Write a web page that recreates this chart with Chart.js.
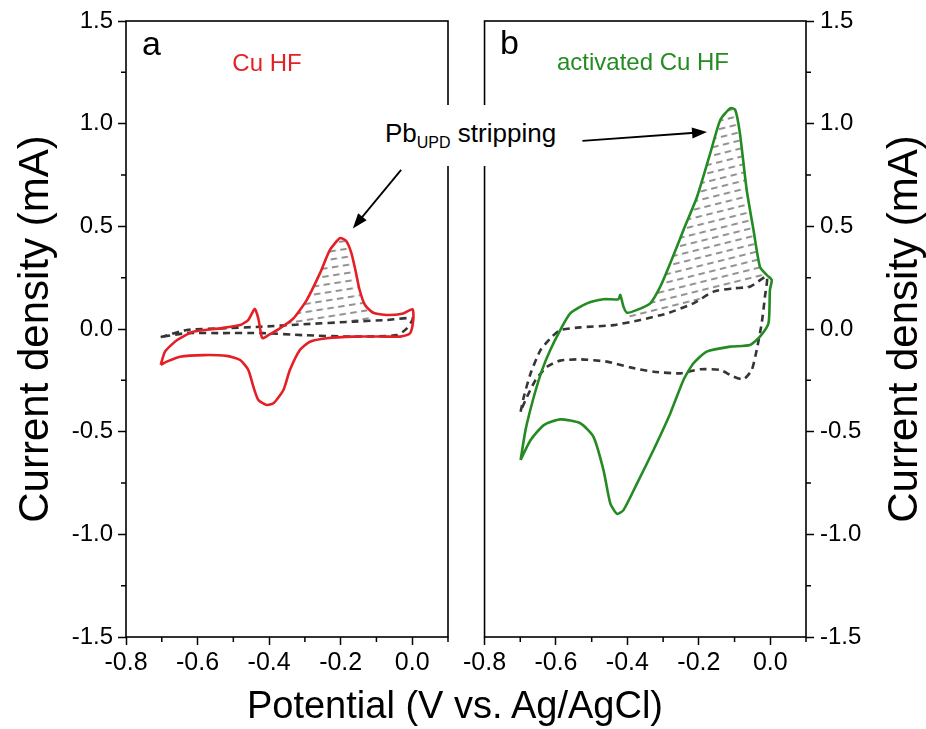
<!DOCTYPE html>
<html>
<head>
<meta charset="utf-8">
<script src="https://cdn.jsdelivr.net/npm/chart.js@4.4.1/dist/chart.umd.min.js"></script>
<style>
  body { margin: 0; background: #fff; }
  #wrap { position: relative; width: 926px; height: 729px; overflow: hidden; background: #fff;
          font-family: 'Liberation Sans', Arial, sans-serif; color: #000; }
  #chartA { position: absolute; left: 0; top: 0; }
  #chartB { position: absolute; left: 460px; top: 0; }
  .callout { position: absolute; left: 378px; top: 105px; width: 186px; height: 61px; line-height: 56px;
             background: #fff; font-size: 26px; padding-left: 7px; box-sizing: border-box; white-space: nowrap; }
  .callout sub { font-size: 16px; vertical-align: -6px; line-height: 0; }
  .xtitle { position: absolute; left: 0; top: 683px; width: 910px; text-align: center; font-size: 38px; line-height: 44px; }
</style>
</head>
<body>
<div id="wrap">
  <canvas id="chartA" width="460" height="729"></canvas>
  <canvas id="chartB" width="466" height="729"></canvas>
  <div class="callout">Pb<sub>UPD</sub> stripping</div>
  <div class="xtitle">Potential (V vs. Ag/AgCl)</div>
</div>
<script>
// axis ticks
const xTicks = [-0.8, -0.6, -0.4, -0.2, 0.0];
const xMinorTicks = [-0.7, -0.5, -0.3, -0.1, 0.1];
const yTicks = [-1.5, -1.0, -0.5, 0.0, 0.5, 1.0, 1.5];
const yMinorTicks = [-1.25, -0.75, -0.25, 0.25, 0.75, 1.25];

// (a) Cu HF, solid red CV
const cuPotential = [-0.703, -0.691, -0.658, -0.612, -0.537, -0.481, -0.458, -0.440, -0.430, -0.422, -0.418, -0.402,
  -0.370, -0.332, -0.295, -0.258, -0.230, -0.202, -0.185, -0.170, -0.158, -0.147, -0.132, -0.109, -0.071, -0.025,
  0.001, 0.003, -0.006, -0.034, -0.071, -0.165, -0.239, -0.286, -0.314, -0.342, -0.360, -0.388, -0.407, -0.430,
  -0.444, -0.458, -0.481, -0.519, -0.584, -0.649, -0.686, -0.703];
const cuCurrent = [-0.175, -0.110, -0.055, -0.013, 0.003, 0.019, 0.045, 0.098, 0.050, -0.030, -0.045, -0.030,
  0.003, 0.052, 0.141, 0.271, 0.385, 0.442, 0.430, 0.370, 0.280, 0.190, 0.117, 0.079, 0.068, 0.076,
  0.096, 0.044, -0.021, -0.037, -0.037, -0.037, -0.045, -0.062, -0.102, -0.200, -0.297, -0.362, -0.370, -0.346,
  -0.281, -0.200, -0.151, -0.131, -0.127, -0.135, -0.159, -0.175];

// (a) background CV, dashed
const cuBgPotential = [-0.703, -0.630, -0.537, -0.425, -0.304, -0.165, -0.071, 0.001, -0.015, -0.043, -0.165,
  -0.304, -0.416, -0.537, -0.630, -0.686, -0.703];
const cuBgCurrent = [-0.040, -0.005, 0.003, 0.011, 0.023, 0.036, 0.044, 0.052, 0.003, -0.030, -0.037,
  -0.030, -0.020, -0.020, -0.020, -0.034, -0.040];

// (a) Pb UPD stripping area
const cuHatchPotential = [-0.372, -0.332, -0.295, -0.258, -0.230, -0.202, -0.185, -0.170, -0.158, -0.147, -0.135,
  -0.125, -0.120, -0.165, -0.250, -0.304, -0.372];
const cuHatchCurrent = [0.010, 0.052, 0.141, 0.271, 0.385, 0.442, 0.430, 0.370, 0.280, 0.190, 0.120,
  0.090, 0.040, 0.036, 0.028, 0.023, 0.016];

// (b) activated Cu HF, solid green CV
const actPotential = [-0.699, -0.685, -0.662, -0.639, -0.616, -0.588, -0.560, -0.513, -0.467, -0.425, -0.420, -0.411,
  -0.401, -0.373, -0.336, -0.308, -0.280, -0.243, -0.205, -0.168, -0.140, -0.112, -0.098, -0.085, -0.066, -0.047,
  -0.029, -0.010, 0.004, -0.001, -0.005, -0.029, -0.057, -0.112, -0.178, -0.215, -0.243, -0.280, -0.327, -0.373,
  -0.411, -0.429, -0.448, -0.467, -0.495, -0.532, -0.588, -0.634, -0.671, -0.699];
const actCurrent = [-0.638, -0.490, -0.330, -0.200, -0.102, -0.005, 0.076, 0.125, 0.145, 0.145, 0.166, 0.109,
  0.079, 0.093, 0.125, 0.206, 0.320, 0.482, 0.644, 0.856, 1.018, 1.075, 1.067, 0.953, 0.677, 0.482,
  0.303, 0.263, 0.239, 0.190, 0.028, -0.037, -0.078, -0.086, -0.110, -0.167, -0.248, -0.411, -0.589, -0.752,
  -0.882, -0.900, -0.849, -0.687, -0.525, -0.459, -0.440, -0.468, -0.541, -0.638];

// (b) background CV, dashed
const actBgPotential = [-0.699, -0.690, -0.671, -0.643, -0.611, -0.588, -0.532, -0.439, -0.364, -0.289, -0.215,
  -0.159, -0.103, -0.057, -0.010, -0.015, -0.024, -0.038, -0.052, -0.075, -0.103, -0.140, -0.196, -0.252, -0.327,
  -0.392, -0.457, -0.532, -0.588, -0.625, -0.657, -0.681, -0.699];
const actBgCurrent = [-0.403, -0.330, -0.216, -0.102, -0.037, -0.005, 0.008, 0.019, 0.044, 0.076, 0.125,
  0.182, 0.198, 0.206, 0.255, 0.157, 0.028, -0.102, -0.200, -0.245, -0.232, -0.200, -0.196, -0.216, -0.208,
  -0.187, -0.159, -0.148, -0.154, -0.184, -0.248, -0.330, -0.400];

// (b) Pb UPD stripping area
const actHatchPotential = [-0.401, -0.373, -0.336, -0.308, -0.280, -0.243, -0.205, -0.168, -0.140, -0.112, -0.098,
  -0.085, -0.066, -0.047, -0.029, -0.012, -0.057, -0.103, -0.159, -0.215, -0.289, -0.364, -0.401];
const actHatchCurrent = [0.079, 0.093, 0.125, 0.206, 0.320, 0.482, 0.644, 0.856, 1.018, 1.075, 1.067,
  0.953, 0.677, 0.482, 0.303, 0.260, 0.206, 0.198, 0.182, 0.125, 0.076, 0.044, 0.030];

const RED = '#e41f26';
const GREEN = '#238b22';
const DASH = '#353535';

Chart.defaults.font.family = "'Liberation Sans', Arial, sans-serif";
Chart.defaults.color = '#000';

function pts(xs, ys) {
    return xs.map((x, i) => ({ x: x, y: ys[i] }));
}

function hatchPattern(angle) {
    const tile = document.createElement('canvas');
    tile.width = 11;
    tile.height = 8;
    const c = tile.getContext('2d');
    c.strokeStyle = '#777';
    c.lineWidth = 1.6;
    c.beginPath();
    c.moveTo(0, 4);
    c.lineTo(6.5, 4);
    c.stroke();
    const p = c.createPattern(tile, 'repeat');
    p.setTransform(new DOMMatrix().rotate(angle));
    return p;
}

// frame, minor ticks, panel letters and arrows
const panelDeco = {
    id: 'panelDeco',
    afterDatasetsDraw(chart, args, opts) {
        const { ctx, chartArea: a, scales } = chart;
        ctx.save();
        ctx.strokeStyle = '#000';
        ctx.lineWidth = 1.6;
        ctx.strokeRect(a.left, a.top, a.right - a.left, a.bottom - a.top);

        ctx.lineWidth = 1.5;
        ctx.beginPath();
        xMinorTicks.forEach(v => {
            const px = scales.x.getPixelForValue(v);
            ctx.moveTo(px, a.bottom);
            ctx.lineTo(px, a.bottom + 5);
        });
        const onRight = scales.y.position === 'right';
        const x0 = onRight ? a.right : a.left;
        yMinorTicks.forEach(v => {
            const py = scales.y.getPixelForValue(v);
            ctx.moveTo(x0, py);
            ctx.lineTo(onRight ? x0 + 5 : x0 - 5, py);
        });
        ctx.stroke();

        // arrow
        const ar = opts.arrow;
        const tx = scales.x.getPixelForValue(ar.from.x), ty = scales.y.getPixelForValue(ar.from.y);
        const hx = scales.x.getPixelForValue(ar.to.x), hy = scales.y.getPixelForValue(ar.to.y);
        const ang = Math.atan2(hy - ty, hx - tx);
        const len = 15, half = 5.5;
        ctx.lineWidth = 1.8;
        ctx.beginPath();
        ctx.moveTo(tx, ty);
        ctx.lineTo(hx - Math.cos(ang) * len * 0.8, hy - Math.sin(ang) * len * 0.8);
        ctx.stroke();
        ctx.fillStyle = '#000';
        ctx.beginPath();
        ctx.moveTo(hx, hy);
        ctx.lineTo(hx - Math.cos(ang) * len - Math.sin(ang) * half, hy - Math.sin(ang) * len + Math.cos(ang) * half);
        ctx.lineTo(hx - Math.cos(ang) * len + Math.sin(ang) * half, hy - Math.sin(ang) * len - Math.cos(ang) * half);
        ctx.closePath();
        ctx.fill();

        // texts
        ctx.textBaseline = 'alphabetic';
        ctx.textAlign = 'left';
        ctx.fillStyle = '#000';
        ctx.font = "34px 'Liberation Sans', Arial, sans-serif";
        ctx.fillText(opts.letter.text, opts.letter.x, opts.letter.y);

        ctx.textAlign = 'center';
        ctx.fillStyle = opts.label.color;
        ctx.font = "24px 'Liberation Sans', Arial, sans-serif";
        ctx.fillText(opts.label.text, opts.label.x, opts.label.y);

        if (opts.yTitle) {
            ctx.fillStyle = '#000';
            ctx.font = "42px 'Liberation Sans', Arial, sans-serif";
            ctx.translate(opts.yTitle.x, opts.yTitle.y);
            ctx.rotate(-Math.PI / 2);
            ctx.textBaseline = 'middle';
            ctx.fillText(opts.yTitle.text, 0, 0);
        }
        ctx.restore();
    }
};

function makePanel(canvasId, cfg) {
    return new Chart(document.getElementById(canvasId), {
        type: 'scatter',
        data: {
            datasets: [
                {
                    data: pts(cfg.solidX, cfg.solidY),
                    showLine: true,
                    borderColor: cfg.color,
                    borderWidth: 2.6,
                    pointRadius: 0,
                    tension: 0.2,
                    fill: false
                },
                {
                    data: pts(cfg.dashX, cfg.dashY),
                    showLine: true,
                    borderColor: DASH,
                    borderWidth: 2.6,
                    borderDash: [7, 5],
                    pointRadius: 0,
                    tension: 0.2,
                    fill: false
                },
                {
                    data: pts(cfg.hatchX, cfg.hatchY),
                    showLine: true,
                    borderColor: 'rgba(0,0,0,0)',
                    borderWidth: 1,
                    backgroundColor: hatchPattern(cfg.hatchAngle),
                    pointRadius: 0,
                    tension: 0.2,
                    fill: 'shape'
                }
            ]
        },
        options: {
            responsive: false,
            animation: false,
            devicePixelRatio: 1,
            layout: { padding: cfg.padding },
            plugins: {
                legend: { display: false },
                tooltip: { enabled: false },
                panelDeco: cfg.deco
            },
            scales: {
                x: {
                    type: 'linear',
                    min: -0.8,
                    max: 0.1,
                    afterBuildTicks: s => { s.ticks = xTicks.map(v => ({ value: v })); },
                    afterFit: s => { s.height = 92; },
                    ticks: {
                        callback: v => v.toFixed(1),
                        font: { size: 25 },
                        color: '#000',
                        padding: 3,
                        maxRotation: 0
                    },
                    grid: { drawOnChartArea: false, tickLength: 8, tickWidth: 1.5, tickColor: '#000' },
                    border: { display: false }
                },
                y: {
                    type: 'linear',
                    position: cfg.yPosition,
                    min: -1.5,
                    max: 1.5,
                    afterBuildTicks: s => { s.ticks = yTicks.map(v => ({ value: v })); },
                    afterFit: s => { s.width = cfg.yWidth; },
                    ticks: {
                        callback: v => v.toFixed(1),
                        font: { size: 24 },
                        color: '#000',
                        padding: cfg.yPosition === 'left' ? 5 : 6
                    },
                    title: {
                        display: cfg.yPosition === 'left',
                        text: 'Current density (mA)',
                        font: { size: 42 },
                        color: '#000',
                        padding: { top: 11, bottom: 0 }
                    },
                    grid: { drawOnChartArea: false, tickLength: 8, tickWidth: 1.5, tickColor: '#000' },
                    border: { display: false }
                }
            }
        },
        plugins: [panelDeco]
    });
}

makePanel('chartA', {
    solidX: cuPotential, solidY: cuCurrent,
    dashX: cuBgPotential, dashY: cuBgCurrent,
    hatchX: cuHatchPotential, hatchY: cuHatchCurrent,
    hatchAngle: -9,
    color: RED,
    yPosition: 'left',
    yWidth: 126,
    padding: { top: 21, right: 12, bottom: 0, left: 0 },
    deco: {
        letter: { text: 'a', x: 142, y: 55 },
        label: { text: 'Cu HF', color: RED, x: 267, y: 71 },
        arrow: { from: { x: -0.031, y: 0.775 }, to: { x: -0.166, y: 0.49 } }
    }
});

makePanel('chartB', {
    solidX: actPotential, solidY: actCurrent,
    dashX: actBgPotential, dashY: actBgCurrent,
    hatchX: actHatchPotential, hatchY: actHatchCurrent,
    hatchAngle: -14,
    color: GREEN,
    yPosition: 'right',
    yWidth: 120,
    padding: { top: 21, right: 0, bottom: 0, left: 24 },
    deco: {
        letter: { text: 'b', x: 40, y: 54 },
        label: { text: 'activated Cu HF', color: GREEN, x: 183, y: 70 },
        arrow: { from: { x: -0.526, y: 0.916 }, to: { x: -0.177, y: 0.96 } },
        yTitle: { text: 'Current density (mA)', x: 445, y: 329 }
    }
});
</script>
</body>
</html>
